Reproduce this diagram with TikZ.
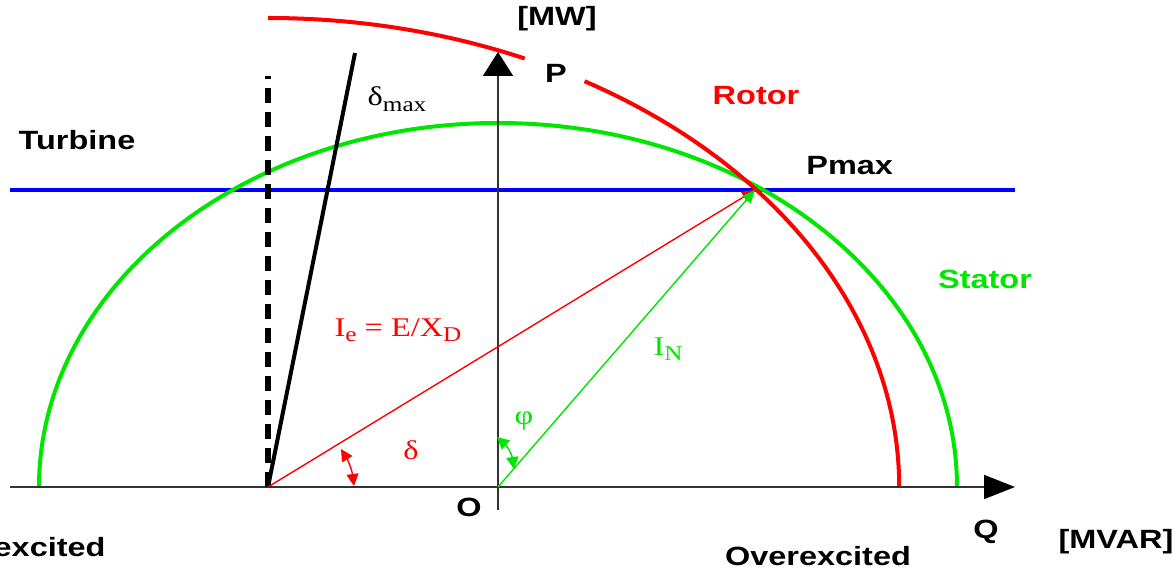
\documentclass[tikz,border=0pt]{standalone}
\usepackage{fontspec}
\usetikzlibrary{arrows.meta}
\newfontfamily\labsans[FakeStretch=1.23]{Liberation Sans}
\newfontfamily\labserif[FakeStretch=1.2]{Liberation Serif}
\definecolor{rred}{RGB}{255,0,0}
\definecolor{sgreen}{RGB}{0,230,0}
\definecolor{tblue}{RGB}{0,0,255}
\begin{document}
\begin{tikzpicture}[x=0.5pt,y=-0.5pt,
  lab/.style={font=\labsans\bfseries\fontsize{13.2}{15}\selectfont, inner sep=0pt, anchor=base},
  slab/.style={font=\labserif\fontsize{13.5}{15}\selectfont, inner sep=0pt, anchor=base},
  axisline/.style={line width=1pt, draw=black!80},
  curve/.style={line width=2pt},
  vec/.style={line width=0.7pt, -{Triangle[length=6.5pt,width=5.5pt]}},
  anglearc/.style={line width=0.7pt, {Triangle[length=6pt,width=6pt]}-{Triangle[length=6pt,width=6pt]}}]
\useasboundingbox (0,0) rectangle (1175,571);
% key points
\coordinate (O) at (498,487);
\coordinate (R0) at (268,487);
\coordinate (S) at (755,190);
\coordinate (Xl) at (10,487);
\coordinate (Xr) at (1015,487);
\coordinate (Yb) at (498,510);
\coordinate (Yt) at (498,52);
\coordinate (Tl) at (10,190);
\coordinate (Tr) at (1015,190);
\coordinate (Dt) at (268,76);
\coordinate (Mt) at (355,53);
% turbine line
\draw[curve, tblue, line width=2.2pt] (Tl) -- (Tr);
% stator ellipse
\draw[curve, sgreen] (O) ++(180:229.5pt and 182pt) arc[start angle=180, end angle=0, x radius=229.5pt, y radius=182pt];
% rotor ellipse (with gap at P)
\draw[curve, rred] (R0) ++(90:315.6pt and 234.5pt) arc[start angle=90, end angle=66, x radius=315.6pt, y radius=234.5pt];
\draw[curve, rred] (R0) ++(59.9:315.6pt and 234.5pt) arc[start angle=59.9, end angle=0, x radius=315.6pt, y radius=234.5pt];
% axes
\draw[axisline, -{Triangle[length=15.5pt,width=12pt,color=black]}] (Xl) -- (Xr);
\draw[axisline, -{Triangle[length=12pt,width=15pt,color=black]}] (Yb) -- (Yt);
% stability lines
\draw[line width=2.6pt, dash pattern=on 7.5pt off 4.5pt] (R0) -- (Dt);
\draw[line width=2pt] (R0) -- (Mt);
% vectors
\draw[vec, rred] (R0) -- (S);
\draw[vec, sgreen] (O) -- (S);
% angle arcs
\coordinate (da) at (341,449);
\coordinate (db) at (354,486);
\coordinate (pa) at (497,437);
\coordinate (pb) at (514,469);
\draw[anglearc, rred] (da) to[bend left=12] (db);
\draw[anglearc, sgreen] (pa) to[bend left=20] (pb);
% labels
\node[lab] (mw) at (557,26) {[MW]};
\node[lab] (p) at (556,83) {P};
\node[lab, text=rred] (rotor) at (756,105) {Rotor};
\node[lab, anchor=base west] (pmax) at (806,175) {Pmax};
\node[lab] (turb) at (77,150) {Turbine};
\node[lab, text=sgreen] (stator) at (985,289) {Stator};
\node[lab] (o) at (469,517) {O};
\node[lab] (q) at (986,539) {Q};
\node[lab] (mvar) at (1116,549) {[MVAR]};
\node[lab, anchor=base east] (under) at (106,557) {excited};
\node[lab] (over) at (818,566) {Overexcited};
\node[slab] (dmax) at (397,106) {δ\raisebox{-0.45ex}{\fontsize{10.5}{12}\selectfont max}};
\node[slab, text=rred] (ie) at (398,337) {I\raisebox{-0.4ex}{\fontsize{10.5}{12}\selectfont e} = E/X\raisebox{-0.4ex}{\fontsize{10.5}{12}\selectfont D}};
\node[slab, text=rred] (delta) at (411,460) {δ};
\node[slab, text=sgreen, anchor=center] (phi) at (524,421) {φ};
\node[slab, text=sgreen] (in) at (668,356) {I\raisebox{-0.4ex}{\fontsize{10.5}{12}\selectfont N}};
\end{tikzpicture}
\end{document}
